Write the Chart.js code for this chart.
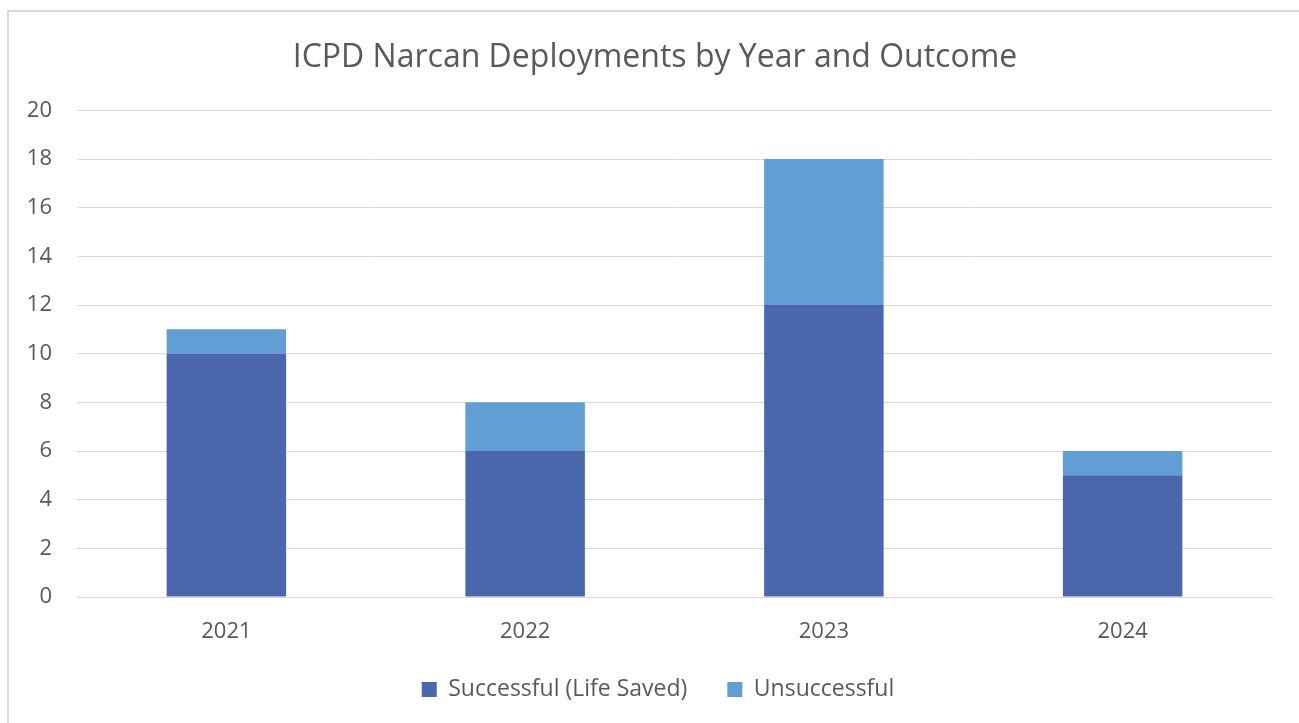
<!DOCTYPE html>
<html>
<head>
<meta charset="utf-8">
<script src="https://cdn.jsdelivr.net/npm/chart.js@4"></script>
<style>
  html, body { margin:0; padding:0; background:#fff; overflow:hidden; }
  #frame { position:absolute; left:7px; top:10px; width:1300px; height:720px; border:2px solid #d9d9d9; box-sizing:border-box; }
  #wrap { position:absolute; left:0; top:0; width:1299px; height:723px; }
</style>
</head>
<body>
<div id="frame"></div>
<div id="wrap"><canvas id="chart"></canvas></div>
<script>
// data
const years = ['2021', '2022', '2023', '2024'];
const successful = [10, 6, 12, 5];
const unsuccessful = [1, 2, 6, 1];
const seriesNames = ['Successful (Life Saved)', 'Unsuccessful'];

const FONT = "'Open Sans', 'Liberation Sans', sans-serif";
const TXT = '#595959';

// title and legend in the original sit a bit right of centre
const boxShift = {
    id: 'boxShift',
    afterLayout(chart) {
        if (chart.legend) { chart.legend.left += 22; chart.legend.right += 22; }
        if (chart.titleBlock) { chart.titleBlock.left += 19; chart.titleBlock.right += 19; }
    }
};

const ctx = document.getElementById('chart').getContext('2d');
new Chart(ctx, {
    type: 'bar',
    data: {
        labels: years,
        datasets: [
            { label: seriesNames[0], data: successful, backgroundColor: '#4A67AD', barPercentage: 1, categoryPercentage: 0.4 },
            { label: seriesNames[1], data: unsuccessful, backgroundColor: '#619ED3', barPercentage: 1, categoryPercentage: 0.4 }
        ]
    },
    plugins: [boxShift],
    options: {
        responsive: true,
        maintainAspectRatio: false,
        animation: false,
        layout: { padding: { left: 0, right: 27, top: 0, bottom: 12 } },
        plugins: {
            title: {
                display: true,
                text: 'ICPD Narcan Deployments by Year and Outcome',
                color: TXT,
                font: { family: FONT, size: 32, weight: 'normal' },
                padding: { top: 39, bottom: 33 }
            },
            legend: {
                position: 'bottom',
                labels: { color: TXT, font: { family: FONT, size: 23 }, boxWidth: 15, boxHeight: 15, padding: 40 }
            },
            tooltip: { enabled: false }
        },
        scales: {
            x: {
                stacked: true,
                grid: { display: false, drawTicks: false },
                border: { color: '#d9d9d9', width: 1 },
                ticks: { color: TXT, font: { family: FONT, size: 22 }, padding: 22 },
                afterFit: s => { s.height = 41; }
            },
            y: {
                stacked: true,
                min: 0, max: 20,
                ticks: { stepSize: 2, color: TXT, font: { family: FONT, size: 22 }, padding: 25 },
                grid: { color: '#d9d9d9', lineWidth: 1, drawTicks: false },
                border: { display: false },
                afterFit: s => { s.width = 77; }
            }
        }
    }
});
</script>
</body>
</html>
